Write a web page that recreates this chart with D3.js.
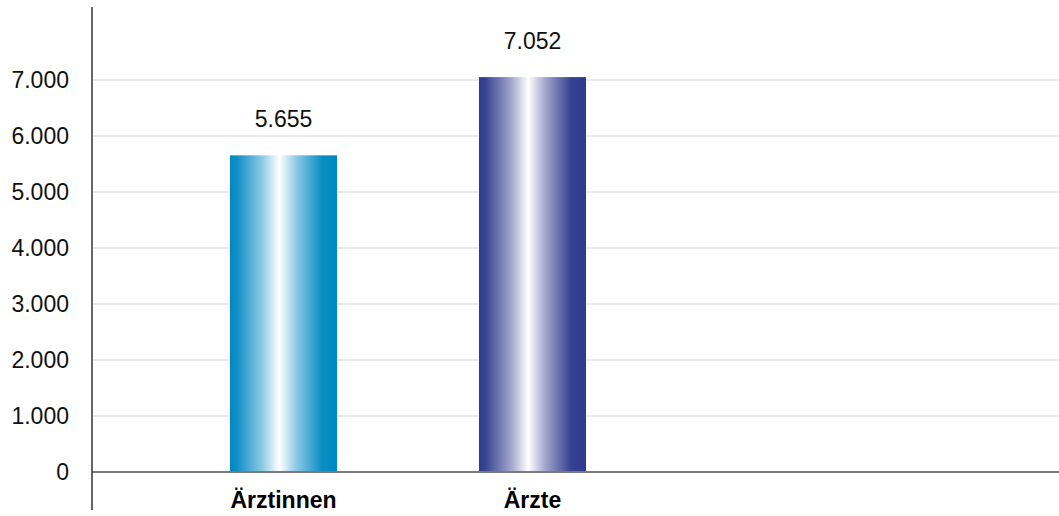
<!DOCTYPE html>
<html>
<head>
<meta charset="utf-8">
<script src="https://cdn.jsdelivr.net/npm/d3@7"></script>
<style>
  html, body { margin: 0; padding: 0; background: #fff; }
  svg { display: block; font-family: "Liberation Sans", Arial, sans-serif; }
</style>
</head>
<body>
<svg id="chart" width="1059" height="516"></svg>
<script>
// Anzahl Ärztinnen und Ärzte
const categories = ["Ärztinnen", "Ärzte"];
const values = [5655, 7052];
const tickValues = [0, 1000, 2000, 3000, 4000, 5000, 6000, 7000];
const tickLabels = ["0", "1.000", "2.000", "3.000", "4.000", "5.000", "6.000", "7.000"];
const barColors = ["#0088c2", "#2e3a8b"];

const svg = d3.select("#chart");
const W = 1059, H = 516;
const plot = { left: 92, right: 1059, top: 7, bottom: 472 };

const y = d3.scaleLinear().domain([0, 7000]).range([plot.bottom, plot.bottom - 7 * 56]);
const x = d3.scaleBand()
  .domain(categories)
  .range([159, 657])
  .paddingInner(0.57)
  .paddingOuter(0.285);

// Metallic gradients for the bars
const defs = svg.append("defs");
barColors.forEach((c, i) => {
  const g = defs.append("linearGradient")
    .attr("id", "grad" + i)
    .attr("x1", "0%").attr("x2", "100%").attr("y1", "0%").attr("y2", "0%");
  const light = d3.interpolateRgb(c, "#ffffff");
  [[0, 0], [0.06, 0.05], [0.3, 0.55], [0.46, 1], [0.62, 0.55], [0.86, 0.04], [1, 0]]
    .forEach(([o, t]) => g.append("stop").attr("offset", o).attr("stop-color", light(t)));
});

// Grid lines
svg.append("g")
  .selectAll("line")
  .data(tickValues.slice(1))
  .join("line")
  .attr("x1", plot.left).attr("x2", plot.right)
  .attr("y1", d => y(d)).attr("y2", d => y(d))
  .attr("stroke", "#e3e3e3")
  .attr("stroke-width", 1.5);

// Y axis labels
const yAxis = d3.axisLeft(y)
  .tickValues(tickValues)
  .tickFormat((d, i) => tickLabels[i])
  .tickSize(0)
  .tickPadding(23);
const gy = svg.append("g").attr("transform", `translate(${plot.left},0)`).call(yAxis);
gy.select(".domain").remove();
gy.selectAll("text")
  .attr("font-size", 23)
  .attr("font-family", "Liberation Sans, Arial, sans-serif")
  .attr("fill", "#111");

// Bars
svg.append("g")
  .selectAll("rect")
  .data(values)
  .join("rect")
  .attr("x", (d, i) => x(categories[i]))
  .attr("width", x.bandwidth())
  .attr("y", d => y(d))
  .attr("height", d => y(0) - y(d))
  .attr("fill", (d, i) => `url(#grad${i})`);

// Value labels
svg.append("g")
  .selectAll("text")
  .data(values)
  .join("text")
  .attr("x", (d, i) => x(categories[i]) + x.bandwidth() / 2)
  .attr("y", d => y(d) - 28)
  .attr("text-anchor", "middle")
  .attr("font-size", 23)
  .attr("fill", "#111")
  .text(d => d3.format(",")(d).replace(/,/g, "."));

// Category labels
svg.append("g")
  .selectAll("text")
  .data(categories)
  .join("text")
  .attr("x", d => x(d) + x.bandwidth() / 2)
  .attr("y", 508)
  .attr("text-anchor", "middle")
  .attr("font-size", 23)
  .attr("font-weight", "bold")
  .attr("fill", "#000")
  .text(d => d);

// Axis lines
svg.append("line")
  .attr("x1", plot.left).attr("x2", plot.right)
  .attr("y1", y(0)).attr("y2", y(0))
  .attr("stroke", "#7a7a7a").attr("stroke-width", 2);
svg.append("line")
  .attr("x1", plot.left).attr("x2", plot.left)
  .attr("y1", plot.top).attr("y2", 510)
  .attr("stroke", "#333").attr("stroke-width", 1.5);
</script>
</body>
</html>
